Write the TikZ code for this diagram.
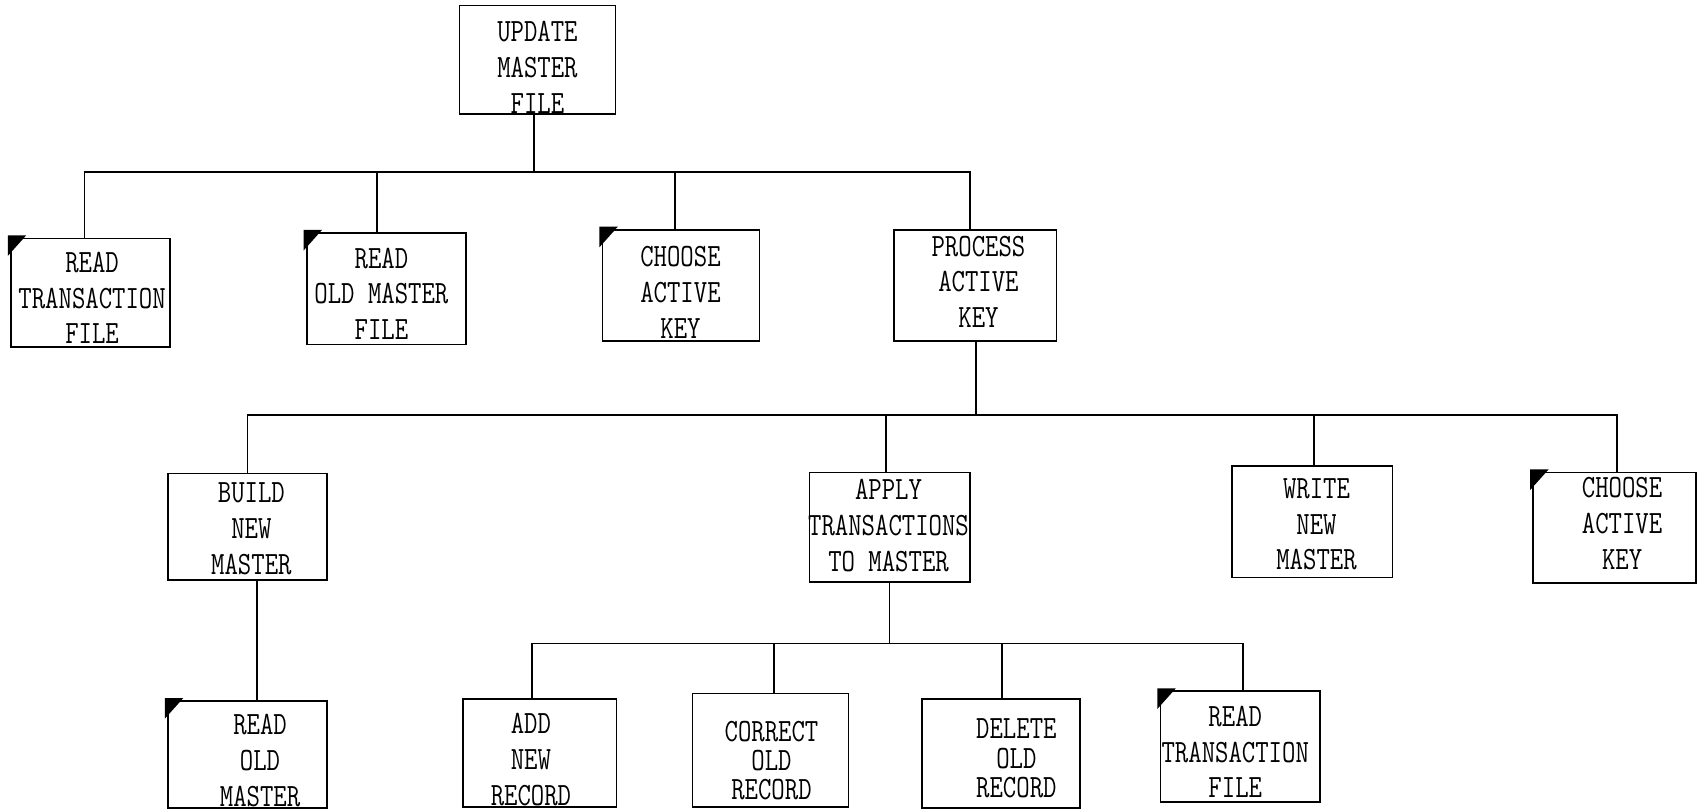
\documentclass[tikz,border=0pt]{standalone}
\usepackage{graphicx}
\newcommand\tl[1]{\scalebox{1}[1.25]{#1}}
\begin{document}
\begin{tikzpicture}[x=0.5pt,y=-0.5pt,
  box/.style={draw,line width=0.8pt,rectangle,inner sep=0pt},
  txt/.style={align=center,inner sep=0pt,font=\fontsize{12}{16.5}\selectfont\ttfamily},
  txtc/.style={txt,font=\fontsize{12}{13.5}\selectfont\ttfamily},
  conn/.style={line width=0.8pt}]
\useasboundingbox (0,0) rectangle (1568,748);
\newcommand\cornermark[1]{\fill ([xshift=-1pt,yshift=1pt]#1.north west) -- ++(17,0) -- ++(-17,19) -- cycle;}
% level 1
\node[box,minimum width=72pt,minimum height=50pt] (upd) at (496,55) {};
\node[txt] (tupd) at (496,62) {\tl{UPDATE}\\\tl{MASTER}\\\tl{FILE}};
% level 2
\node[box,minimum width=73.5pt,minimum height=50pt] (rt1) at (83.5,270) {};
\node[txt] (trt1) at (85,275) {\tl{READ}\\\tl{TRANSACTION}\\\tl{FILE}};
\node[box,minimum width=73.5pt,minimum height=51.5pt] (rom) at (356.5,266.5) {};
\node[txt] (trom) at (352,271) {\tl{READ}\\\tl{OLD MASTER}\\\tl{FILE}};
\node[box,minimum width=72.5pt,minimum height=51.5pt] (cak) at (628.5,263.5) {};
\node[txt] (tcak) at (628,270) {\tl{CHOOSE}\\\tl{ACTIVE}\\\tl{KEY}};
\node[box,minimum width=75pt,minimum height=51.5pt] (pak) at (900,263.5) {};
\node[txt] (tpak) at (903,260) {\tl{PROCESS}\\\tl{ACTIVE}\\\tl{KEY}};
% level 3
\node[box,minimum width=73.5pt,minimum height=49pt] (bnm) at (228.5,486) {};
\node[txt] (tbnm) at (232,488) {\tl{BUILD}\\\tl{NEW}\\\tl{MASTER}};
\node[box,minimum width=74pt,minimum height=50.5pt] (atm) at (821,486.5) {};
\node[txt] (tatm) at (820,485) {\tl{APPLY}\\\tl{TRANSACTIONS}\\\tl{TO MASTER}};
\node[box,minimum width=74pt,minimum height=51.5pt] (wnm) at (1211,481.5) {};
\node[txt] (twnm) at (1215,484) {\tl{WRITE}\\\tl{NEW}\\\tl{MASTER}};
\node[box,minimum width=75pt,minimum height=51pt] (cak2) at (1490,487) {};
\node[txt] (tcak2) at (1497,483) {\tl{CHOOSE}\\\tl{ACTIVE}\\\tl{KEY}};
% level 4
\node[box,minimum width=73.5pt,minimum height=49.5pt] (rom2) at (228.5,696.5) {};
\node[txt] (trom2) at (240,702) {\tl{READ}\\\tl{OLD}\\\tl{MASTER}};
\node[box,minimum width=71pt,minimum height=50pt] (add) at (498,695) {};
\node[txt] (tadd) at (490,701) {\tl{ADD}\\\tl{NEW}\\\tl{RECORD}};
\node[box,minimum width=72pt,minimum height=52.5pt] (cor) at (711,692.5) {};
\node[txtc] (tcor) at (712,702) {\tl{CORRECT}\\\tl{OLD}\\\tl{RECORD}};
\node[box,minimum width=73pt,minimum height=50.5pt] (del) at (924,695.5) {};
\node[txtc] (tdel) at (938,700) {\tl{DELETE}\\\tl{OLD}\\\tl{RECORD}};
\node[box,minimum width=73.5pt,minimum height=51pt] (rtf2) at (1144.5,689) {};
\node[txt] (trtf2) at (1140,694) {\tl{READ}\\\tl{TRANSACTION}\\\tl{FILE}};
% corner marks
\cornermark{rt1}
\cornermark{rom}
\cornermark{cak}
\cornermark{cak2}
\cornermark{rom2}
\cornermark{rtf2}
% connectors level 1 -> 2
\draw[conn] ([xshift=-1.5pt]upd.south) -- ++(0,53) -| ([xshift=-2.75pt]rt1.north);
\draw[conn] ([xshift=-1.5pt]upd.south) -- ++(0,53) -| ([xshift=-4.25pt]rom.north);
\draw[conn] ([xshift=-1.5pt]upd.south) -- ++(0,53) -| ([xshift=-2.75pt]cak.north);
\draw[conn] ([xshift=-1.5pt]upd.south) -- ++(0,53) -| ([xshift=-2.5pt]pak.north);
% connectors level 2 -> 3
\draw[conn] ([xshift=0.5pt]pak.south) -- ++(0,67) -| (bnm.north);
\draw[conn] ([xshift=0.5pt]pak.south) -- ++(0,67) -| ([xshift=-1.5pt]atm.north);
\draw[conn] ([xshift=0.5pt]pak.south) -- ++(0,67) -| ([xshift=1pt]wnm.north);
\draw[conn] ([xshift=0.5pt]pak.south) -- ++(0,67) -| ([xshift=1pt]cak2.north);
% connectors level 3 -> 4
\draw[conn] ([xshift=4.25pt]bnm.south) -- ([xshift=4.25pt]rom2.north);
\draw[conn] (atm.south) -- ++(0,56) -| ([xshift=-3.5pt]add.north);
\draw[conn] (atm.south) -- ++(0,56) -| ([xshift=1.5pt]cor.north);
\draw[conn] (atm.south) -- ++(0,56) -| ([xshift=0.5pt]del.north);
\draw[conn] (atm.south) -- ++(0,56) -| ([xshift=1.25pt]rtf2.north);
\end{tikzpicture}
\end{document}
